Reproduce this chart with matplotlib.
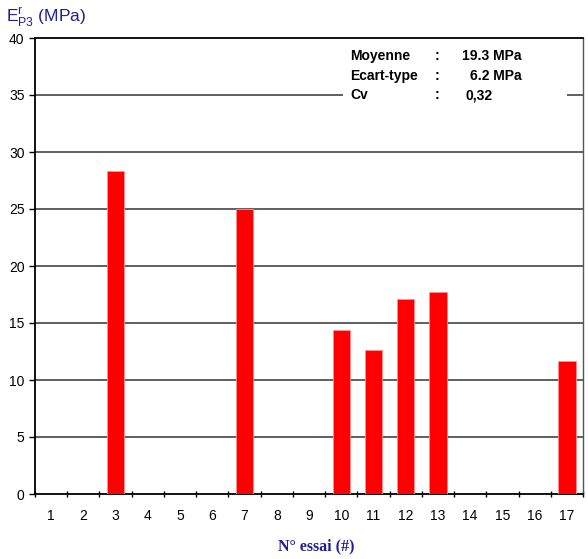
import matplotlib
matplotlib.use("Agg")
import matplotlib.pyplot as plt
from matplotlib.patches import Rectangle

plt.rcParams['font.family'] = 'Liberation Sans'
plt.rcParams['mathtext.fontset'] = 'custom'
plt.rcParams['mathtext.rm'] = 'Liberation Sans'

essais = list(range(1, 18))
values = [0, 0, 28.3, 0, 0, 0, 25.0, 0, 0, 14.4, 12.6, 17.1, 17.7, 0, 0, 0, 11.7]
stats_labels = ["Moyenne", "Ecart-type", "Cv"]
stats_values = ["19.3 MPa", "6.2 MPa", "0,32"]

fig = plt.figure(figsize=(5.88, 5.59), dpi=100)
ax = fig.add_axes([35 / 588, 65 / 559, 548 / 588, 456 / 559])

x = [e - 1 for e in essais]
ax.bar(x, values, width=0.54, color='#ff0000', edgecolor='#ff9090', linewidth=0.6, zorder=3)

ax.set_xlim(-0.5, 16.5)
ax.set_ylim(0, 40)
ax.set_yticks(range(0, 41, 5))
ax.set_xticks(x)
ax.set_xticklabels([str(e) for e in essais], fontsize=10)
ax.set_xticks([i - 0.5 for i in range(18)], minor=True)
ax.tick_params(axis='x', which='major', length=0, pad=11)
ax.tick_params(axis='x', which='minor', length=4, direction='inout', width=1)
ax.tick_params(axis='y', labelsize=10, length=4, width=1, direction='out')

for y in range(5, 40, 5):
    ax.axhline(y, color='#444444', linewidth=1.2, zorder=1)
for s in ax.spines.values():
    s.set_linewidth(1.3)
    s.set_color('black')
ax.spines['right'].set_color('#555555')
ax.spines['right'].set_linewidth(1.0)

# stats box
ax.add_patch(Rectangle((9.05, 34.1), 6.95, 5.4, facecolor='white', edgecolor='none', zorder=2))
rows_y = [38.4, 36.7, 35.0]
for lab, val, yy in zip(stats_labels, stats_values, rows_y):
    ax.text(9.27, yy, lab, fontsize=10, fontweight='bold', va='center', zorder=4)
    ax.text(11.97, yy, ":", fontsize=10, fontweight='bold', va='center', ha='center', zorder=4)
    if val.endswith("MPa"):
        ax.text(14.6, yy, val, fontsize=10, fontweight='bold', va='center', ha='right', zorder=4)
    else:
        ax.text(12.87, yy, val, fontsize=10, fontweight='bold', va='center', ha='left', zorder=4)

fig.text(6 / 588, 1 - 17 / 559, r"E$^{\mathrm{r}}_{\mathrm{P3}}$ (MPa)", fontsize=12.5,
         color='#1f1f99', va='center', ha='left')
fig.text(316 / 588, 1 - 546 / 559, "N° essai (#)", fontsize=11.5, fontweight='bold',
         family='Liberation Serif', color='#1f1f99', ha='center', va='center')

fig.savefig("out.png", dpi=100)
